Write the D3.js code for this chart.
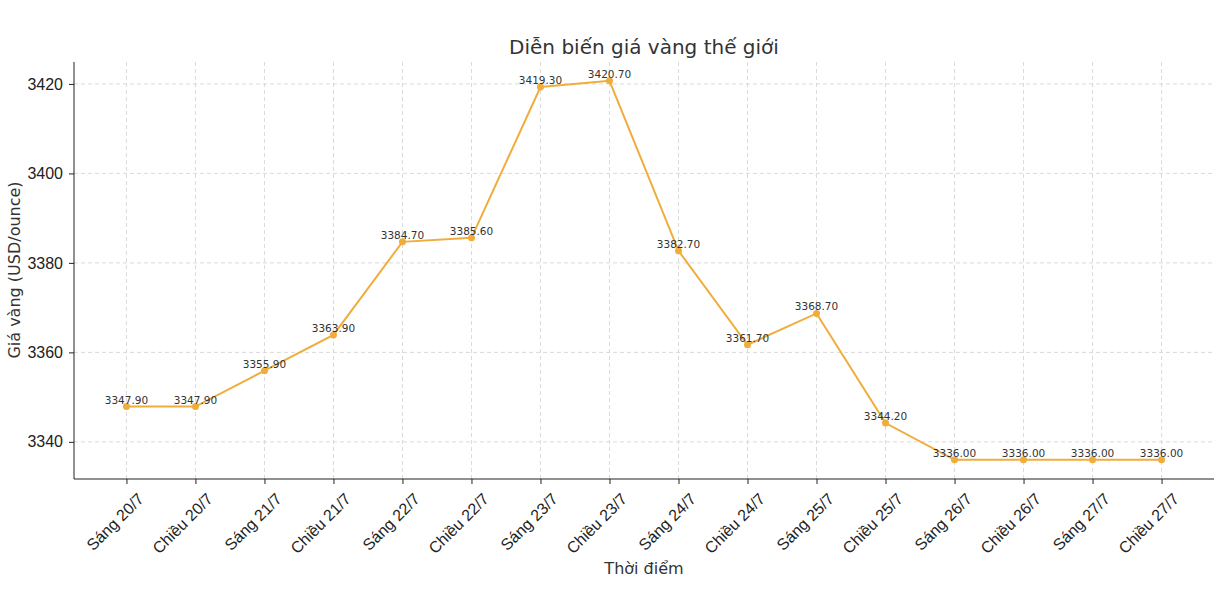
<!DOCTYPE html>
<html><head><meta charset="utf-8">
<script src="https://cdn.jsdelivr.net/npm/d3@7"></script>
<style>body{margin:0;background:#fff;font-family:"DejaVu Sans",sans-serif}</style>
</head><body><svg id="c" width="1218" height="610"></svg>
<script>
const categories=["Sáng 20/7","Chiều 20/7","Sáng 21/7","Chiều 21/7","Sáng 22/7","Chiều 22/7","Sáng 23/7","Chiều 23/7","Sáng 24/7","Chiều 24/7","Sáng 25/7","Chiều 25/7","Sáng 26/7","Chiều 26/7","Sáng 27/7","Chiều 27/7"];
const prices=[3347.9,3347.9,3355.9,3363.9,3384.7,3385.6,3419.3,3420.7,3382.7,3361.7,3368.7,3344.2,3336.0,3336.0,3336.0,3336.0];
const yTicks=[3340,3360,3380,3400,3420];
const svg=d3.select("#c");
const L=74,R=1214,T=62,B=479,col="#f0ad3c";
const x=d3.scalePoint().domain(categories).range([L,R]).padding(0.76);
const y=d3.scaleLinear().domain([3331.7,3424.9]).range([B,T]);
const g=svg.append("g");
g.selectAll(".vg").data(categories).enter().append("line").attr("x1",d=>x(d)).attr("x2",d=>x(d)).attr("y1",T).attr("y2",B).attr("stroke","#d0d0d0").attr("stroke-dasharray","4,3").attr("stroke-width",0.8);
g.selectAll(".hg").data(yTicks).enter().append("line").attr("x1",L).attr("x2",R).attr("y1",d=>y(d)).attr("y2",d=>y(d)).attr("stroke","#d0d0d0").attr("stroke-dasharray","4,3").attr("stroke-width",0.8);
const ya=svg.append("g").attr("transform",`translate(${L},0)`).call(d3.axisLeft(y).tickValues(yTicks).tickFormat(d3.format("d")).tickSize(5).tickPadding(6).tickSizeOuter(0));
ya.select(".domain").attr("d",`M0,${T}V${B}`);
ya.selectAll("text").attr("font-size",16).attr("fill","#222");
const xa=svg.append("g").attr("transform",`translate(0,${B})`).call(d3.axisBottom(x).tickSize(5).tickSizeOuter(0));
xa.select(".domain").attr("d",`M${L},0H${R}`);
xa.selectAll("text").attr("font-size",16).attr("fill","#222").attr("text-anchor","end").attr("dy",null).attr("dx",null).attr("y",0).attr("transform","translate(10,13) rotate(-45)").attr("dominant-baseline","hanging");
svg.selectAll(".domain,.tick line").attr("stroke","#222");
svg.append("path").datum(prices).attr("fill","none").attr("stroke",col).attr("stroke-width",2)
 .attr("d",d3.line().x((d,i)=>x(categories[i])).y(d=>y(d)));
svg.selectAll(".pt").data(prices).enter().append("circle").attr("cx",(d,i)=>x(categories[i])).attr("cy",d=>y(d)).attr("r",3.5).attr("fill",col);
svg.selectAll(".lb").data(prices).enter().append("text").attr("x",(d,i)=>x(categories[i])).attr("y",d=>y(d)-3).attr("text-anchor","middle").attr("font-size",10.5).attr("fill","#333").text(d=>d.toFixed(2));
svg.append("text").attr("x",644).attr("y",54).attr("text-anchor","middle").attr("font-size",20).attr("fill","#333").text("Diễn biến giá vàng thế giới");
svg.append("text").attr("x",644).attr("y",574).attr("text-anchor","middle").attr("font-size",16).attr("fill","#333").text("Thời điểm");
svg.append("text").attr("transform","translate(20,270) rotate(-90)").attr("text-anchor","middle").attr("font-size",16).attr("fill","#333").text("Giá vàng (USD/ounce)");
</script></body></html>
